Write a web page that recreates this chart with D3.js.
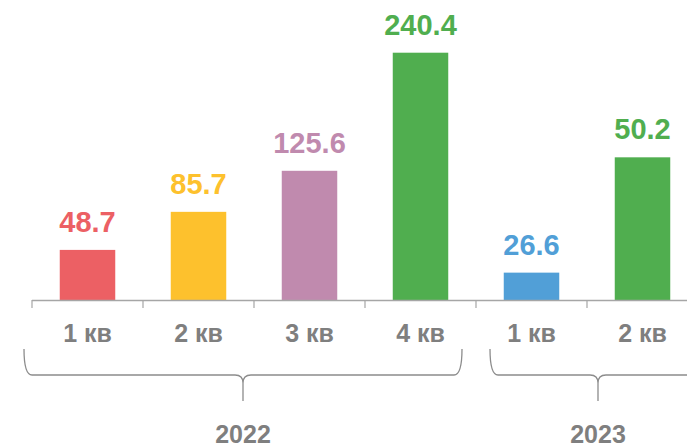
<!DOCTYPE html>
<html lang="ru">
<head>
<meta charset="utf-8">
<script src="https://d3js.org/d3.v7.min.js"></script>
<style>
  body { margin: 0; background: #fff; }
  text { font-family: Arial, "Liberation Sans", sans-serif; font-weight: bold; }
</style>
</head>
<body>
<script>
// data
const quarters = ["1 кв", "2 кв", "3 кв", "4 кв", "1 кв", "2 кв"];
const keys = ["2022-1", "2022-2", "2022-3", "2022-4", "2023-1", "2023-2"];
// bar heights as drawn (the last bar is drawn taller than its label)
const barValues = [48.7, 85.7, 125.6, 240.4, 26.6, 138.7];
const valueLabels = ["48.7", "85.7", "125.6", "240.4", "26.6", "50.2"];
const barColors = ["#ec6064", "#fdc12d", "#c08aae", "#50ae4f", "#519fd7", "#50ae4f"];
const years = ["2022", "2023"];
const yearFirst = [0, 4];
const yearLast = [3, 5];
const yearShift = [-11, 11];

const width = 687, height = 448;
const baseY = 300;

const svg = d3.select("body").append("svg")
    .attr("width", width)
    .attr("height", height);

const x = d3.scaleBand()
    .domain(keys)
    .range([32, 698])
    .paddingInner(0.5)
    .paddingOuter(0.25);

const y = d3.scaleLinear()
    .domain([0, 240.4])
    .range([baseY, 52.7]);

const step = x.step();
const edge = i => x(keys[0]) - step * 0.25 + i * step;

// bars
svg.selectAll("rect.bar")
  .data(keys)
  .join("rect")
    .attr("class", "bar")
    .attr("x", d => x(d))
    .attr("y", (d, i) => y(barValues[i]))
    .attr("width", x.bandwidth())
    .attr("height", (d, i) => baseY - y(barValues[i]))
    .attr("fill", (d, i) => barColors[i]);

// value labels
svg.selectAll("text.val")
  .data(keys)
  .join("text")
    .attr("class", "val")
    .attr("x", d => x(d) + x.bandwidth() / 2)
    .attr("y", (d, i) => y(barValues[i]) - 18)
    .attr("text-anchor", "middle")
    .attr("font-size", 29)
    .attr("fill", (d, i) => barColors[i])
    .text((d, i) => valueLabels[i]);

// axis line and ticks
const axisColor = "#a6a6a6";
svg.append("line")
    .attr("x1", edge(0)).attr("x2", width)
    .attr("y1", baseY + 0.5).attr("y2", baseY + 0.5)
    .attr("stroke", axisColor).attr("stroke-width", 1.5);

svg.selectAll("line.tick")
  .data(d3.range(keys.length + 1))
  .join("line")
    .attr("class", "tick")
    .attr("x1", i => edge(i)).attr("x2", i => edge(i))
    .attr("y1", baseY).attr("y2", baseY + 8)
    .attr("stroke", axisColor).attr("stroke-width", 1.2);

// quarter labels
svg.selectAll("text.q")
  .data(keys)
  .join("text")
    .attr("class", "q")
    .attr("x", d => x(d) + x.bandwidth() / 2)
    .attr("y", 342)
    .attr("text-anchor", "middle")
    .attr("font-size", 25)
    .attr("fill", "#7f7f7f")
    .text((d, i) => quarters[i]);

// year braces
const braceTop = 349, braceY = 375, stemY = 401, r = 8;
years.forEach((yr, g) => {
  const left = edge(yearFirst[g]);
  const right = edge(yearLast[g] + 1);
  const c = (left + right) / 2 + yearShift[g];
  const half = (right - left) / 2 - 3;
  const l = c - half, rr = c + half;
  const p = d3.path();
  p.moveTo(l, braceTop);
  p.quadraticCurveTo(l, braceY, l + r, braceY);
  p.lineTo(c - r, braceY);
  p.quadraticCurveTo(c, braceY, c, braceY + 8);
  p.lineTo(c, stemY);
  p.moveTo(rr, braceTop);
  p.quadraticCurveTo(rr, braceY, rr - r, braceY);
  p.lineTo(c + r, braceY);
  p.quadraticCurveTo(c, braceY, c, braceY + 8);
  svg.append("path")
      .attr("d", p.toString())
      .attr("fill", "none")
      .attr("stroke", "#8c8c8c")
      .attr("stroke-width", 1.3);

  svg.append("text")
      .attr("x", c)
      .attr("y", 443)
      .attr("text-anchor", "middle")
      .attr("font-size", 25)
      .attr("fill", "#7f7f7f")
      .text(yr);
});
</script>
</body>
</html>
